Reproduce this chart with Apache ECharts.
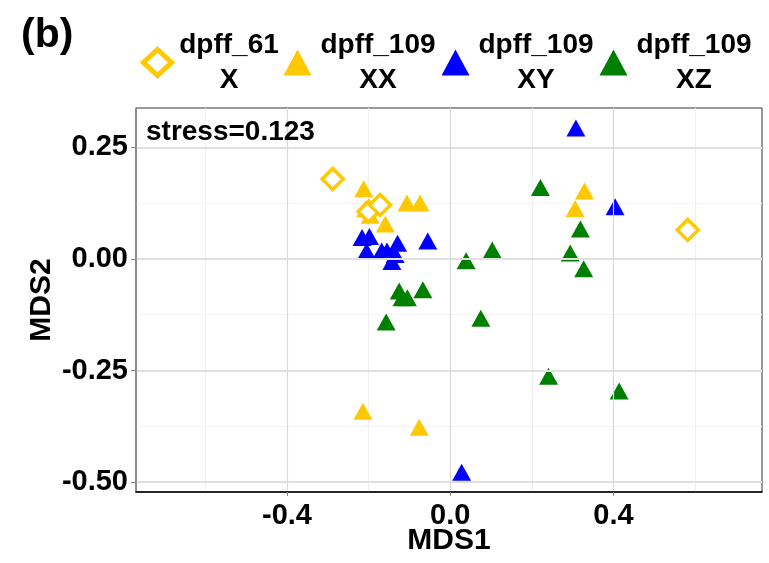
<!DOCTYPE html>
<html>
<head>
<meta charset="utf-8">
<script src="https://cdn.jsdelivr.net/npm/echarts@6/dist/echarts.min.js"></script>
<style>
  html, body { margin: 0; padding: 0; background: #fff; }
  #chart { width: 769px; height: 563px; }
</style>
</head>
<body>
<div id="chart"></div>
<script>
// MDS coordinates
const groups = ['dpff_61\nX', 'dpff_109\nXX', 'dpff_109\nXY', 'dpff_109\nXZ'];

const x61 = [-0.288, -0.200, -0.172, 0.582];
const y61 = [0.179, 0.106, 0.121, 0.065];

const xXX = [-0.212, -0.208, -0.196, -0.159, -0.106, -0.074, 0.329, 0.306, -0.214, -0.076];
const yXX = [0.157, 0.112, 0.098, 0.078, 0.125, 0.125, 0.152, 0.113, -0.341, -0.377];

const xXY = [-0.216, -0.198, -0.205, -0.168, -0.155, -0.129, -0.135, -0.143, -0.055, 0.308, 0.404, 0.028];
const yXY = [0.048, 0.050, 0.017, 0.018, 0.018, 0.035, 0.010, -0.006, 0.040, 0.293, 0.117, -0.478];

const xXZ = [0.221, 0.039, 0.103, 0.319, 0.294, 0.327, 0.075, -0.125, -0.118, -0.105, -0.067, -0.157, 0.241, 0.414];
const yXZ = [0.160, -0.004, 0.020, 0.067, 0.013, -0.022, -0.133, -0.072, -0.087, -0.087, -0.069, -0.141, -0.263, -0.296];

const xTicks = [-0.4, 0, 0.4];
const xMinorTicks = [-0.6, -0.2, 0.2, 0.6];
const yTicks = [-0.5, -0.25, 0, 0.25];
const yMinorTicks = [-0.375, -0.125, 0.125];

const stressText = 'stress=0.123';

function pairs(xs, ys) {
  return xs.map((v, i) => [v, ys[i]]);
}

const FONT = 'Liberation Sans, Arial, sans-serif';
const YELLOW = '#FFC800';
const BLUE = '#0000FF';
const GREEN = '#008000';

const chart = echarts.init(document.getElementById('chart'));

const xRange = { min: -0.77, max: 0.764 };
const yRange = { min: -0.522, max: 0.338 };

const option = {
  animation: false,
  textStyle: { fontFamily: FONT },
  grid: {
    left: 136, right: 7, top: 108, bottom: 71,
    outerBoundsMode: 'none',
    show: true, borderColor: '#333', borderWidth: 1, backgroundColor: 'transparent'
  },
  legend: {
    data: [
      { name: groups[0], itemStyle: { borderWidth: 5 } },
      groups[1], groups[2], groups[3]
    ],
    left: 136,
    top: 26,
    itemGap: 2,
    itemWidth: 28,
    itemHeight: 26,
    formatter: function (name) {
      const parts = name.split('\n');
      const key = parts[0] === 'dpff_61' ? 'a' : 'b';
      return '{' + key + '|' + parts[0] + '}\n{' + key + '|' + parts[1] + '}';
    },
    textStyle: {
      rich: {
        a: { width: 105, align: 'center', fontSize: 28, fontWeight: 'bold', lineHeight: 35, color: '#000', fontFamily: FONT },
        b: { width: 123, align: 'center', fontSize: 28, fontWeight: 'bold', lineHeight: 35, color: '#000', fontFamily: FONT }
      }
    }
  },
  graphic: [
    { type: 'text', left: 21, top: 15, style: { text: '(b)', font: 'bold 41px ' + FONT, fill: '#000' } },
    { type: 'text', left: 146, top: 118, z: 10, style: { text: stressText, font: 'bold 28px ' + FONT, fill: '#000' } }
  ],
  xAxis: [
    {
      type: 'value', ...xRange,
      name: 'MDS1', nameLocation: 'middle', nameGap: 34, nameMoveOverlap: false,
      nameTextStyle: { fontSize: 30, fontWeight: 'bold', color: '#000' },
      axisLine: { show: true, onZero: false, lineStyle: { color: '#000', width: 1.5 } },
      axisTick: { show: true, customValues: xTicks, length: 4, lineStyle: { color: '#888' } },
      axisLabel: {
        customValues: xTicks, margin: 9, fontSize: 29, fontWeight: 'bold', color: '#000',
        formatter: v => v.toFixed(1)
      },
      splitLine: { show: true, lineStyle: { color: '#d9d9d9', width: 1.2 } },
      z: 3
    },
    {
      type: 'value', ...xRange,
      axisLine: { show: false },
      axisTick: { show: false, customValues: xMinorTicks },
      axisLabel: { show: false },
      splitLine: { show: true, lineStyle: { color: '#f0f0f0', width: 1 } }
    }
  ],
  yAxis: [
    {
      type: 'value', ...yRange,
      name: 'MDS2', nameLocation: 'middle', nameGap: 79, nameRotate: 90, nameMoveOverlap: false,
      nameTextStyle: { fontSize: 30, fontWeight: 'bold', color: '#000' },
      axisLine: { show: true, onZero: false, lineStyle: { color: '#888', width: 1.5 } },
      axisTick: { show: true, customValues: yTicks, length: 5, lineStyle: { color: '#888' } },
      axisLabel: {
        customValues: yTicks, margin: 8, fontSize: 29, fontWeight: 'bold', color: '#000',
        formatter: v => v.toFixed(2)
      },
      splitLine: { show: true, lineStyle: { color: '#e0e0e0', width: 2 } },
      z: 3
    },
    {
      type: 'value', ...yRange,
      axisLine: { show: false },
      axisTick: { show: false, customValues: yMinorTicks },
      axisLabel: { show: false },
      splitLine: { show: true, lineStyle: { color: '#f3f3f3', width: 1 } }
    }
  ],
  series: [
    {
      name: groups[1], type: 'scatter', symbol: 'triangle', symbolSize: [19, 17],
      itemStyle: { color: YELLOW, opacity: 1 }, data: pairs(xXX, yXX)
    },
    {
      name: groups[2], type: 'scatter', symbol: 'triangle', symbolSize: [19, 17],
      itemStyle: { color: BLUE, opacity: 1 }, data: pairs(xXY, yXY)
    },
    {
      name: groups[3], type: 'scatter', symbol: 'triangle', symbolSize: [19, 17],
      itemStyle: { color: GREEN, opacity: 1 }, data: pairs(xXZ, yXZ)
    },
    {
      name: groups[0], type: 'scatter', symbol: 'diamond', symbolSize: 21,
      itemStyle: { color: '#fff', borderColor: YELLOW, borderWidth: 3.5, opacity: 1 },
      data: pairs(x61, y61)
    }
  ]
};

chart.setOption(option);
</script>
</body>
</html>
